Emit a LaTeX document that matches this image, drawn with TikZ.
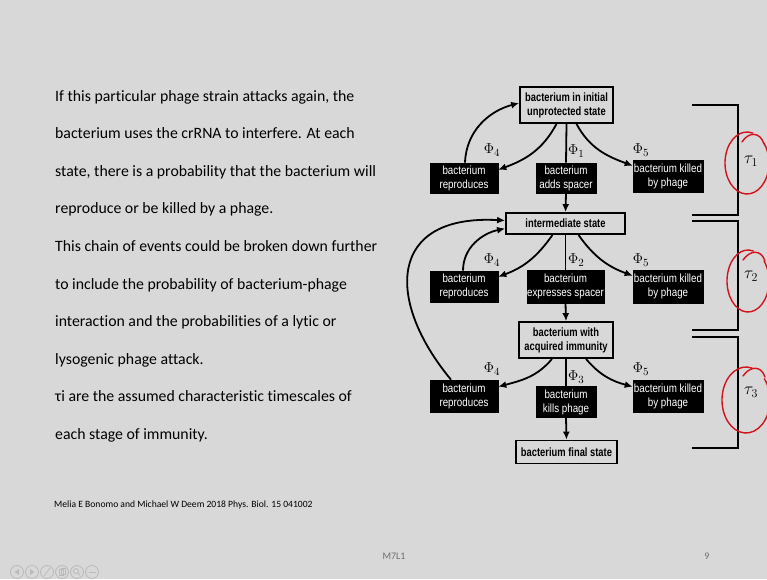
\documentclass[tikz,border=0pt]{standalone}
\usepackage{fontspec}
\setmainfont{Carlito}[Ligatures={NoCommon}]
\newfontfamily\statefont[FakeStretch=0.78]{Liberation Sans}
\newfontfamily\eventfont[FakeStretch=0.83]{Liberation Sans}
\usetikzlibrary{arrows.meta}
\definecolor{slidebg}{RGB}{216,216,216}
\definecolor{penred}{RGB}{212,18,28}
\definecolor{iconfg}{RGB}{186,186,186}
\definecolor{footgray}{RGB}{110,110,110}

\tikzset{
  statebox/.style={draw=black, line width=1.8pt, fill=slidebg, align=center,
    inner sep=0pt, font=\statefont\bfseries\fontsize{12}{14}\selectfont},
  eventbox/.style={draw=black, line width=0.6pt, fill=black, text=white, align=center,
    inner sep=0pt, font=\eventfont\fontsize{11.8}{14}\selectfont},
  flow/.style={line width=1.8pt, -{Latex[length=8pt,width=7pt]}},
  plain/.style={line width=1.8pt},
  prob/.style={font=\fontsize{15}{15}\selectfont, inner sep=0pt},
  bodyline/.style={anchor=base west, inner sep=0pt, font=\fontsize{15.8}{18}\selectfont},
  bracket/.style={line width=2.4pt},
  pen/.style={draw=penred, line width=1.4pt, line cap=round},
  icon/.style={draw=iconfg, line width=0.8pt}
}

\begin{document}
\begin{tikzpicture}[x=1pt,y=1pt]
  \path[fill=slidebg] (0,0) rectangle (767,-579);
  \useasboundingbox (0,0) rectangle (767,-579);
  \clip (0,0) rectangle (767,-579);

  % ---------- left column text ----------
  \node[bodyline] (l1)  at (55,-101) {If this particular phage strain attacks again, the};
  \node[bodyline] (l2)  at (55,-138.6) {bacterium uses the crRNA to interfere. At each};
  \node[bodyline] (l3)  at (55,-176.2) {state, there is a probability that the bacterium will};
  \node[bodyline] (l4)  at (55,-213.8) {reproduce or be killed by a phage.};
  \node[bodyline] (l5)  at (55,-251.4) {This chain of events could be broken down further};
  \node[bodyline] (l6)  at (55,-289) {to include the probability of bacterium-phage};
  \node[bodyline] (l7)  at (55,-326.6) {interaction and the probabilities of a lytic or};
  \node[bodyline] (l8)  at (55,-364.2) {lysogenic phage attack.};
  \node[bodyline] (l9)  at (55,-401.8) {τi are the assumed characteristic timescales of};
  \node[bodyline] (l10) at (55,-439.4) {each stage of immunity.};

  \node[anchor=base west, inner sep=0pt, font=\fontsize{9.6}{11}\selectfont] (cite) at (54,-507)
    {Melia E Bonomo and Michael W Deem 2018 Phys. Biol. 15 041002};
  \node[inner sep=0pt, text=footgray, font=\fontsize{10}{11}\selectfont] (code) at (394,-556) {M7L1};
  \node[inner sep=0pt, text=footgray, font=\fontsize{10}{11}\selectfont] (page) at (707,-556) {9};

  % ---------- state boxes ----------
  \node[statebox, minimum width=93pt, minimum height=36pt] (init) at (566.5,-105)
    {bacterium in initial\\unprotected state};
  \node[statebox, minimum width=119pt, minimum height=21pt] (inter) at (565.5,-223.5)
    {intermediate state};
  \node[statebox, minimum width=94pt, minimum height=36pt] (acq) at (566,-340)
    {bacterium with\\acquired immunity};
  \node[statebox, minimum width=101pt, minimum height=23pt] (final) at (566.5,-452)
    {bacterium final state};

  % ---------- event boxes ----------
  \node[eventbox, minimum width=68pt, minimum height=30pt] (rep1) at (464,-178)
    {bacterium\\reproduces};
  \node[eventbox, minimum width=60pt, minimum height=30pt] (add) at (566,-178)
    {bacterium\\adds spacer};
  \node[eventbox, minimum width=70pt, minimum height=32pt] (kill1) at (668,-176)
    {bacterium killed\\by phage};

  \node[eventbox, minimum width=68pt, minimum height=31pt] (rep2) at (464,-286.5)
    {bacterium\\reproduces};
  \node[eventbox, minimum width=77pt, minimum height=33pt] (expr) at (565.5,-286.5)
    {bacterium\\expresses spacer};
  \node[eventbox, minimum width=70pt, minimum height=33pt] (kill2) at (668,-286.5)
    {bacterium killed\\by phage};

  \node[eventbox, minimum width=68pt, minimum height=32pt] (rep3) at (464,-396)
    {bacterium\\reproduces};
  \node[eventbox, minimum width=60pt, minimum height=31pt] (kphage) at (566,-402)
    {bacterium\\kills phage};
  \node[eventbox, minimum width=70pt, minimum height=32pt] (kill3) at (668,-396)
    {bacterium killed\\by phage};

  % ---------- transitions, stage 1 ----------
  \draw[plain] (init.south) -- (add.north);
  \draw[flow] (add.south) -- (inter.north);
  \draw[flow] ([xshift=-10pt]init.south) to[out=-118,in=20] ([yshift=-7pt]rep1.north east);
  \draw[flow] ([xshift=10pt]init.south) to[out=-62,in=160] ([yshift=-6pt]kill1.north west);
  \draw[flow] ([xshift=1pt]rep1.north) to[out=88,in=195] ([yshift=2pt]init.west);

  % ---------- transitions, stage 2 ----------
  \draw[plain] (inter.south) -- (expr.north);
  \draw[flow] (expr.south) -- (acq.north);
  \draw[flow] ([xshift=-13pt]inter.south) to[out=-125,in=20] ([yshift=-6pt]rep2.north east);
  \draw[flow] ([xshift=13pt]inter.south) to[out=-55,in=160] ([yshift=-6pt]kill2.north west);
  \draw[flow] ([xshift=-1pt]rep2.north) to[out=90,in=192] ([yshift=-5pt]inter.west);
  \draw[flow] ([xshift=-13pt]rep3.north) .. controls (385,-300) and (388,-214) .. ([yshift=3pt]inter.west);

  % ---------- transitions, stage 3 ----------
  \draw[plain] (acq.south) -- (kphage.north);
  \draw[flow] (kphage.south) -- (final.north);
  \draw[flow] ([xshift=-14pt]acq.south) to[out=-130,in=15] ([yshift=-7pt]rep3.north east);
  \draw[flow] ([xshift=20pt]acq.south) to[out=-50,in=165] ([yshift=-7pt]kill3.north west);

  % ---------- probabilities ----------
  \node[prob] (p41) at (492,-150) {$\Phi_4$};
  \node[prob, anchor=west] (p1) at (568,-151) {$\Phi_1$};
  \node[prob] (p51) at (641,-150) {$\Phi_5$};
  \node[prob] (p42) at (492,-260) {$\Phi_4$};
  \node[prob, anchor=west] (p2) at (568,-260) {$\Phi_2$};
  \node[prob] (p52) at (641,-260) {$\Phi_5$};
  \node[prob] (p43) at (492,-369) {$\Phi_4$};
  \node[prob, anchor=west] (p3) at (568,-377) {$\Phi_3$};
  \node[prob] (p53) at (641,-369) {$\Phi_5$};

  % ---------- stage brackets ----------
  \draw[bracket] (692,-105) -- (738,-105) -- (738,-215) -- (692,-215);
  \draw[bracket] (692,-221) -- (738,-221) -- (738,-330) -- (692,-330);
  \draw[bracket] (692,-337) -- (738,-337) -- (738,-448) -- (692,-448);

  % ---------- timescales with pen marks ----------
  \node[prob, font=\fontsize{17}{17}\selectfont] (t1) at (751,-161) {$\tau_1$};
  \node[prob, font=\fontsize{17}{17}\selectfont] (t2) at (751,-276) {$\tau_2$};
  \node[prob, font=\fontsize{17}{17}\selectfont] (t3) at (751,-392) {$\tau_3$};

  \draw[pen] (747,-163) ++(75:22pt and 31pt) arc[start angle=75, end angle=400, x radius=22pt, y radius=31pt];
  \draw[pen] (742,-142) .. controls (748,-132) and (760,-131) .. (764,-144);
  \draw[pen] (748,-281) ++(75:21pt and 31pt) arc[start angle=75, end angle=400, x radius=21pt, y radius=31pt];
  \draw[pen] (743,-260) .. controls (750,-250) and (761,-249) .. (765,-261);
  \draw[pen] (746,-400) ++(75:24pt and 33pt) arc[start angle=75, end angle=400, x radius=24pt, y radius=33pt];
  \draw[pen] (743,-376) .. controls (750,-366) and (761,-365) .. (765,-377);

  % ---------- slide control icons ----------
  \foreach \cx in {17,32,47,62,77,92} {
    \draw[icon] (\cx,-572) circle (6.5pt);
  }
  \fill[iconfg] (14.5,-572) -- (19,-569) -- (19,-575) -- cycle;
  \fill[iconfg] (34.5,-572) -- (30,-569) -- (30,-575) -- cycle;
  \draw[icon] (44,-576) -- (50,-568);
  \draw[icon] (59.5,-575.5) rectangle (63.5,-569.5);
  \draw[icon] (61,-568) rectangle (65,-574);
  \draw[icon] (76,-571) circle (2.5pt);
  \draw[icon] (77.8,-572.8) -- (80,-575);
  \draw[icon] (88.5,-572) -- (95.5,-572);
\end{tikzpicture}
\end{document}
